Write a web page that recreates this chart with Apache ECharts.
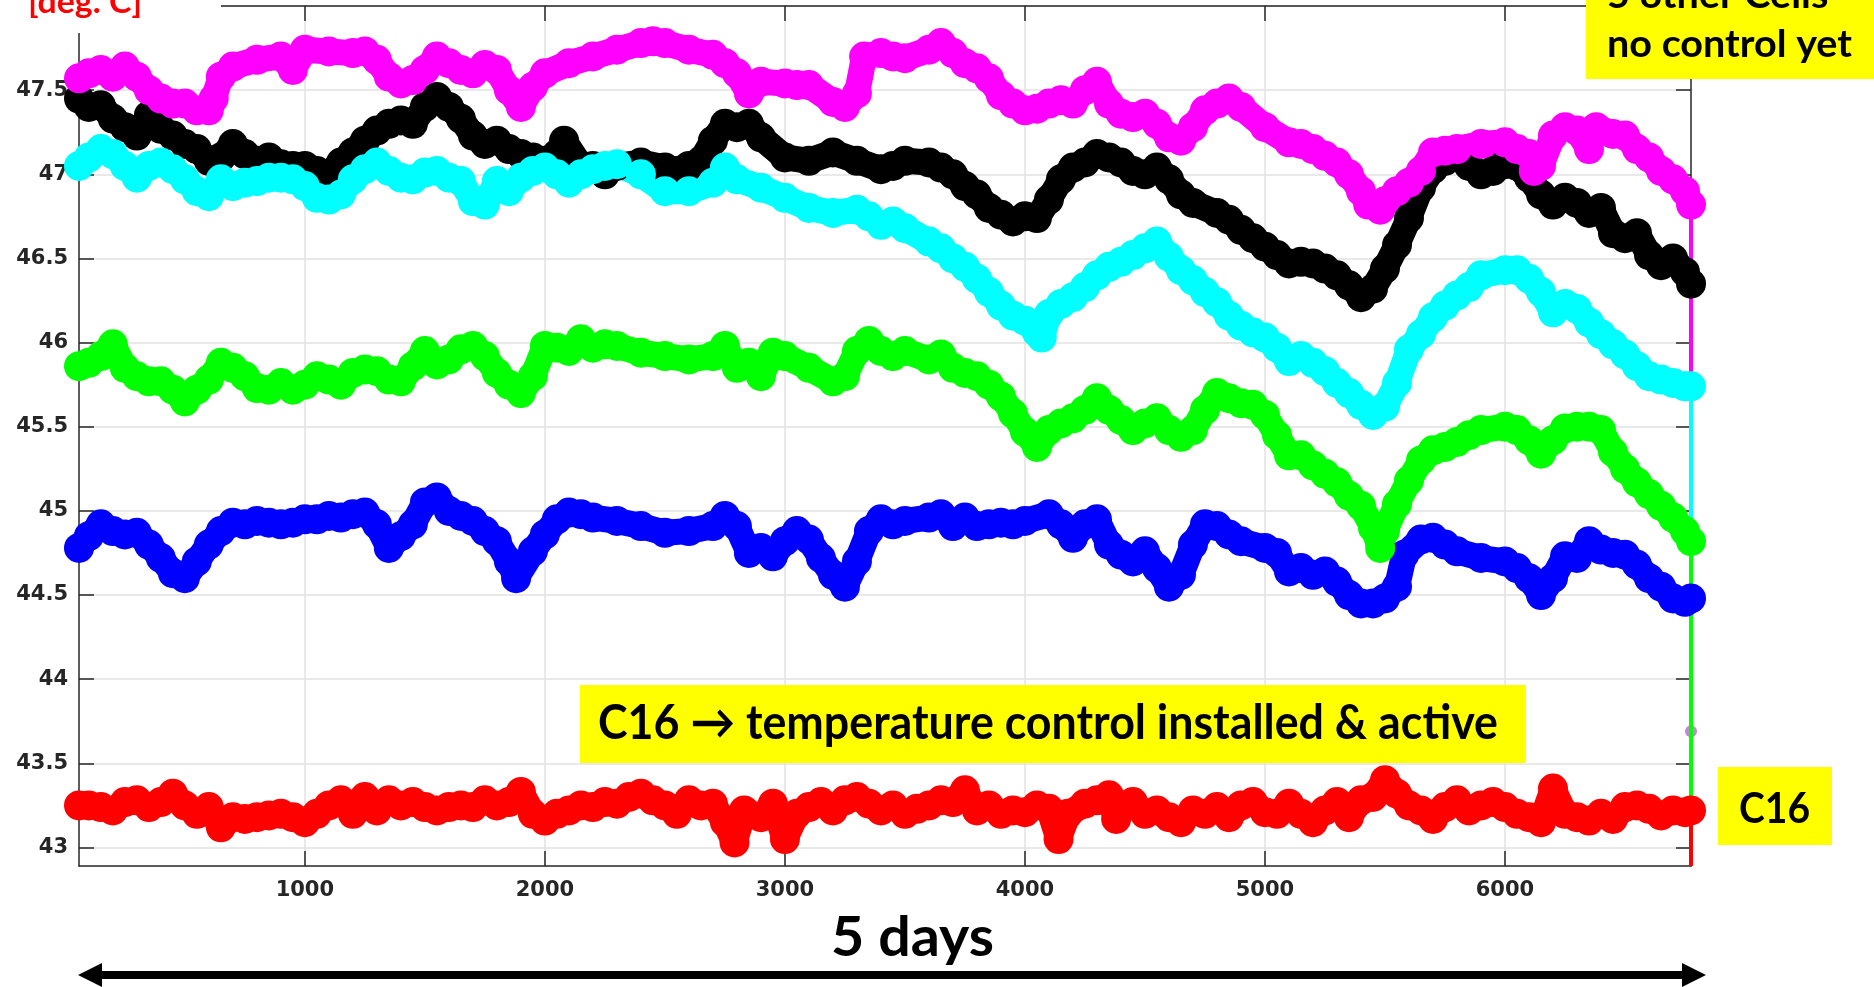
<!DOCTYPE html>
<html><head><meta charset="utf-8">
<script src="https://cdn.jsdelivr.net/npm/echarts@6/dist/echarts.min.js"></script>
<style>html,body{margin:0;padding:0;background:#fff}#c{width:1874px;height:987px}</style>
</head><body><div id="c"></div>
<script>
// ---- axis ticks / ranges ----
const xTicks = [1000, 2000, 3000, 4000, 5000, 6000];
const yTicks = [43, 43.5, 44, 44.5, 45, 45.5, 46, 46.5, 47, 47.5, 48];
const yLabels = [43, 43.5, 44, 44.5, 45, 45.5, 46, 46.5, 47, 47.5];
const xRange = [59, 6775];
const yRange = [42.89, 48.0];

// ---- series values [sample, deg C] ----
const magenta = [[59,47.57],[100,47.60],[150,47.62],[200,47.58],[250,47.64],[300,47.58],[350,47.50],[400,47.45],[450,47.42],[500,47.42],[550,47.38],[600,47.38],[620,47.45],[650,47.58],[700,47.64],[800,47.68],[900,47.70],[950,47.62],[1000,47.74],[1100,47.73],[1200,47.72],[1250,47.73],[1300,47.68],[1350,47.58],[1400,47.54],[1450,47.56],[1500,47.62],[1550,47.70],[1600,47.66],[1650,47.62],[1700,47.60],
[1750,47.65],[1800,47.62],[1850,47.50],[1900,47.40],[1950,47.52],[2000,47.60],[2100,47.66],[2200,47.70],[2300,47.74],[2400,47.78],[2450,47.79],[2500,47.78],[2600,47.74],[2700,47.71],[2750,47.66],[2800,47.60],[2850,47.48],[2900,47.55],[3000,47.54],[3050,47.53],[3100,47.53],[3200,47.43],[3250,47.40],[3300,47.48],[3330,47.70],[3400,47.72],
[3450,47.70],[3500,47.69],[3600,47.74],[3650,47.78],[3700,47.72],[3750,47.66],[3800,47.63],[3850,47.57],[3900,47.47],[3950,47.42],[4000,47.38],[4050,47.39],[4100,47.42],[4150,47.44],[4200,47.42],[4250,47.50],[4300,47.55],[4350,47.42],[4400,47.36],[4450,47.34],[4500,47.36],[4550,47.30],[4600,47.22],[4650,47.20],[4700,47.28],[4750,47.38],[4800,47.42],[4850,47.45],[4900,47.40],[5000,47.28],[5100,47.19],
[5150,47.18],[5200,47.15],[5250,47.11],[5300,47.07],[5350,47.00],[5400,46.90],[5430,46.82],[5480,46.79],[5500,46.84],[5550,46.90],[5600,46.95],[5650,47.02],[5700,47.13],[5750,47.14],[5800,47.15],[5900,47.18],[6000,47.19],[6050,47.15],[6100,47.12],[6120,47.02],[6150,47.05],[6200,47.23],[6250,47.28],[6300,47.26],[6350,47.15],[6380,47.28],[6450,47.24],[6500,47.23],[6550,47.15],[6600,47.10],[6650,47.02],[6700,46.97],[6750,46.90],[6775,46.82]];

const black = [[59,47.45],[100,47.40],[150,47.41],[200,47.33],[250,47.28],[300,47.23],[350,47.35],[400,47.27],[450,47.23],[500,47.18],[550,47.15],[600,47.08],[650,47.10],[700,47.18],[750,47.12],[800,47.08],[850,47.10],[900,47.06],[950,47.05],[1000,47.05],[1050,47.02],[1100,47.00],[1150,47.07],[1200,47.13],[1250,47.20],[1300,47.26],[1350,47.30],[1400,47.32],[1450,47.30],[1500,47.40],[1550,47.46],[1600,47.40],[1650,47.33],[1700,47.23],
[1750,47.18],[1800,47.20],[1850,47.15],[1900,47.12],[1950,47.10],[2000,47.08],[2050,47.12],[2080,47.20],[2150,47.05],[2200,47.05],[2250,47.00],[2300,47.05],[2400,47.07],[2500,47.04],[2550,47.02],[2600,47.05],[2650,47.08],[2700,47.20],[2750,47.30],[2800,47.28],[2850,47.30],[2900,47.22],[3000,47.10],[3100,47.08],[3200,47.13],[3300,47.08],[3400,47.03],
[3450,47.05],[3500,47.08],[3600,47.07],[3650,47.04],[3700,47.00],[3750,46.93],[3800,46.88],[3850,46.80],[3900,46.76],[3950,46.72],[4000,46.75],[4050,46.74],[4100,46.85],[4150,46.97],[4200,47.04],[4250,47.07],[4300,47.12],[4350,47.10],[4400,47.07],[4450,47.02],[4500,47.00],[4550,47.04],[4600,46.97],[4650,46.88],[4700,46.83],[4800,46.77],[4850,46.73],[4900,46.67],[4950,46.62],[5000,46.57],[5050,46.52],[5100,46.47],
[5150,46.48],[5200,46.47],[5250,46.44],[5300,46.40],[5350,46.34],[5400,46.27],[5450,46.32],[5500,46.44],[5550,46.58],[5600,46.74],[5650,46.92],[5700,47.03],[5750,47.08],[5800,47.12],[5850,47.05],[5900,47.00],[5950,47.02],[6000,47.06],[6050,47.05],[6100,46.98],[6150,46.88],[6200,46.82],[6250,46.86],[6300,46.83],[6350,46.77],[6400,46.80],[6450,46.65],[6500,46.62],[6550,46.65],[6600,46.52],[6650,46.46],[6700,46.50],[6750,46.42],[6775,46.35]];

const cyan = [[59,47.05],[100,47.10],[150,47.15],[200,47.12],[250,47.05],[300,46.98],[350,47.05],[400,47.07],[450,47.03],[500,46.97],[550,46.90],[600,46.87],[650,46.97],[700,46.93],[750,46.95],[800,46.96],[850,46.98],[900,46.98],[950,46.97],[1000,46.93],[1050,46.86],[1100,46.85],[1150,46.88],[1200,46.97],[1250,47.03],[1300,47.07],[1350,47.02],[1400,46.98],[1450,46.97],[1500,47.01],[1550,47.02],[1600,46.98],[1650,46.96],[1700,46.84],
[1750,46.82],[1800,46.96],[1850,46.90],[1900,46.98],[1950,47.02],[2000,47.04],[2050,47.00],[2100,46.95],[2150,47.00],[2200,47.03],[2250,47.05],[2300,47.06],[2400,47.00],[2500,46.90],[2600,46.90],[2700,46.95],[2750,47.04],[2800,46.97],[2900,46.92],[3000,46.86],[3100,46.80],[3200,46.77],[3300,46.79],[3350,46.75],[3400,46.70],
[3450,46.72],[3500,46.68],[3600,46.60],[3650,46.56],[3700,46.50],[3750,46.45],[3800,46.38],[3850,46.30],[3900,46.22],[3950,46.16],[4000,46.13],[4050,46.06],[4070,46.03],[4100,46.17],[4150,46.23],[4200,46.27],[4250,46.33],[4300,46.40],[4350,46.45],[4400,46.48],[4450,46.52],[4500,46.56],[4550,46.60],[4600,46.51],[4650,46.43],[4700,46.37],[4750,46.30],[4800,46.24],[4850,46.16],[4900,46.10],[4950,46.06],[5000,46.03],[5050,45.97],[5100,45.89],
[5150,45.92],[5200,45.88],[5250,45.83],[5300,45.76],[5350,45.70],[5400,45.63],[5450,45.57],[5500,45.62],[5550,45.76],[5600,45.96],[5650,46.05],[5700,46.15],[5750,46.22],[5800,46.28],[5850,46.33],[5900,46.40],[6000,46.43],[6050,46.43],[6100,46.38],[6150,46.30],[6200,46.18],[6250,46.23],[6300,46.20],[6350,46.12],[6400,46.05],[6450,45.99],[6500,45.93],[6550,45.86],[6600,45.80],[6650,45.78],[6700,45.76],[6750,45.74],[6775,45.74]];

const blue = [[59,44.78],[100,44.85],[150,44.92],[200,44.88],[250,44.86],[300,44.87],[350,44.80],[400,44.72],[450,44.63],[500,44.60],[550,44.70],[600,44.80],[650,44.88],[700,44.93],[750,44.92],[800,44.94],[850,44.93],[900,44.92],[950,44.93],[1000,44.95],[1050,44.95],[1100,44.97],[1150,44.96],[1200,44.98],[1250,44.99],[1300,44.92],[1350,44.78],[1400,44.85],[1450,44.92],[1500,45.05],[1550,45.08],[1600,45.00],[1650,44.97],[1700,44.94],
[1750,44.88],[1800,44.82],[1850,44.70],[1880,44.60],[1950,44.76],[2000,44.86],[2050,44.95],[2100,44.99],[2150,44.98],[2200,44.96],[2300,44.94],[2400,44.91],[2500,44.87],[2600,44.88],[2700,44.91],[2750,44.97],[2800,44.91],[2850,44.75],[2900,44.78],[2950,44.73],[3000,44.82],[3050,44.88],[3100,44.83],[3150,44.72],[3200,44.62],[3250,44.55],[3300,44.70],[3350,44.88],[3400,44.95],
[3450,44.92],[3500,44.94],[3600,44.96],[3650,44.98],[3700,44.91],[3750,44.96],[3800,44.91],[3850,44.92],[3900,44.93],[3950,44.92],[4000,44.94],[4100,44.98],[4150,44.92],[4200,44.84],[4250,44.92],[4300,44.95],[4350,44.80],[4400,44.74],[4450,44.70],[4500,44.76],[4550,44.66],[4600,44.55],[4650,44.62],[4700,44.80],[4750,44.92],[4800,44.91],[4850,44.86],[4900,44.82],[5000,44.78],[5050,44.75],[5100,44.64],
[5150,44.66],[5200,44.62],[5250,44.64],[5300,44.58],[5350,44.50],[5400,44.45],[5450,44.45],[5500,44.48],[5550,44.55],[5580,44.74],[5650,44.83],[5700,44.84],[5750,44.80],[5800,44.76],[5900,44.72],[6000,44.70],[6050,44.66],[6100,44.60],[6150,44.50],[6200,44.60],[6250,44.73],[6300,44.72],[6350,44.82],[6400,44.77],[6450,44.75],[6500,44.74],[6550,44.68],[6600,44.60],[6650,44.55],[6700,44.48],[6750,44.46],[6775,44.48]];

const green = [[59,45.86],[100,45.88],[150,45.92],[200,45.99],[250,45.85],[300,45.80],[350,45.77],[400,45.77],[450,45.72],[500,45.65],[550,45.72],[600,45.78],[650,45.88],[700,45.85],[750,45.80],[800,45.73],[850,45.72],[900,45.76],[950,45.72],[1000,45.75],[1050,45.80],[1100,45.78],[1150,45.75],[1200,45.82],[1250,45.84],[1300,45.83],[1350,45.78],[1400,45.77],[1450,45.86],[1500,45.95],[1550,45.87],[1600,45.90],[1650,45.96],[1700,45.98],
[1750,45.92],[1800,45.82],[1850,45.75],[1900,45.70],[1950,45.80],[2000,45.98],[2050,45.97],[2100,45.95],[2150,46.02],[2200,45.97],[2250,45.99],[2300,45.98],[2400,45.94],[2500,45.92],[2600,45.90],[2700,45.92],[2750,45.98],[2800,45.85],[2850,45.88],[2900,45.80],[2950,45.94],[3000,45.92],[3100,45.85],[3200,45.77],[3250,45.80],[3300,45.95],[3350,46.01],[3400,45.95],
[3450,45.92],[3500,45.95],[3600,45.90],[3650,45.93],[3700,45.85],[3750,45.82],[3800,45.80],[3850,45.75],[3900,45.68],[3950,45.58],[4000,45.47],[4050,45.38],[4100,45.48],[4150,45.52],[4200,45.55],[4250,45.60],[4300,45.67],[4350,45.60],[4400,45.54],[4450,45.48],[4500,45.52],[4550,45.55],[4600,45.48],[4650,45.44],[4700,45.48],[4750,45.60],[4800,45.70],[4850,45.67],[4900,45.64],[4950,45.63],[5000,45.57],[5050,45.45],[5100,45.33],
[5150,45.33],[5200,45.27],[5250,45.22],[5300,45.17],[5350,45.09],[5400,45.03],[5450,44.90],[5480,44.78],[5500,44.88],[5550,45.04],[5600,45.18],[5650,45.30],[5700,45.36],[5750,45.38],[5800,45.41],[5850,45.45],[5900,45.48],[6000,45.50],[6050,45.48],[6100,45.42],[6150,45.34],[6200,45.42],[6250,45.49],[6300,45.50],[6350,45.50],[6400,45.48],[6450,45.35],[6500,45.25],[6550,45.17],[6600,45.10],[6650,45.03],[6700,44.96],[6750,44.88],[6775,44.82]];

const red = [[59,43.25],[100,43.25],[150,43.24],[200,43.22],[250,43.27],[300,43.28],[350,43.24],[400,43.27],[450,43.32],[500,43.25],[550,43.20],[600,43.24],[650,43.12],[700,43.18],[750,43.17],[800,43.18],[850,43.19],[900,43.20],[950,43.18],[1000,43.15],[1050,43.20],[1100,43.25],[1150,43.28],[1200,43.20],[1250,43.30],[1300,43.22],[1350,43.28],[1400,43.25],[1450,43.27],[1500,43.24],[1550,43.22],[1600,43.24],[1650,43.25],[1700,43.24],
[1750,43.28],[1800,43.25],[1850,43.27],[1900,43.33],[1950,43.20],[2000,43.16],[2050,43.20],[2100,43.22],[2150,43.25],[2200,43.24],[2250,43.27],[2300,43.26],[2350,43.30],[2400,43.32],[2450,43.28],[2500,43.25],[2550,43.20],[2600,43.28],[2650,43.25],[2700,43.26],[2750,43.15],[2790,43.03],[2830,43.22],[2900,43.18],[2950,43.26],[3000,43.05],[3050,43.20],[3100,43.24],[3150,43.27],[3200,43.22],[3250,43.28],[3300,43.30],[3350,43.26],[3400,43.22],
[3450,43.25],[3500,43.20],[3550,43.23],[3600,43.25],[3650,43.28],[3700,43.27],[3750,43.34],[3800,43.22],[3850,43.25],[3900,43.20],[3950,43.22],[4000,43.21],[4050,43.25],[4100,43.23],[4140,43.05],[4180,43.20],[4250,43.26],[4300,43.28],[4350,43.31],[4380,43.17],[4400,43.25],[4450,43.27],[4500,43.20],[4550,43.22],[4600,43.18],[4650,43.15],[4700,43.22],[4750,43.20],[4800,43.24],[4850,43.18],[4900,43.25],[4950,43.27],[5000,43.21],[5050,43.20],[5100,43.26],
[5150,43.20],[5200,43.15],[5250,43.22],[5300,43.27],[5350,43.18],[5400,43.28],[5450,43.30],[5500,43.40],[5550,43.32],[5600,43.25],[5650,43.22],[5700,43.17],[5750,43.24],[5800,43.28],[5850,43.22],[5900,43.25],[5950,43.27],[6000,43.24],[6050,43.20],[6100,43.18],[6150,43.15],[6200,43.35],[6250,43.20],[6300,43.18],[6350,43.16],[6400,43.20],[6450,43.17],[6500,43.24],[6550,43.25],[6600,43.23],[6650,43.19],[6700,43.22],[6750,43.21],[6775,43.22]];

const endMarker = [[6775, 43.69]];

// draw order as in the original figure
const seriesDefs = [
  {name: 'black', data: black, color: '#000000'},
  {name: 'magenta', data: magenta, color: '#ff00ff'},
  {name: 'cyan', data: cyan, color: '#00ffff'},
  {name: 'blue', data: blue, color: '#0000ff'},
  {name: 'green', data: green, color: '#00ff00'},
  {name: 'red', data: red, color: '#ff0000'}
];

const series = [];
seriesDefs.forEach(d => {
  series.push({
    type: 'line', name: d.name, data: d.data,
    showSymbol: true, showAllSymbol: true, symbol: 'circle', symbolSize: 30,
    itemStyle: {color: d.color},
    lineStyle: {color: d.color, width: 26, cap: 'round', join: 'round'},
    emphasis: {disabled: true}, animation: false, silent: true
  });
  const last = d.data[d.data.length - 1];
  series.push({
    type: 'line', name: d.name + '-end', data: [last, [last[0], yRange[0]]],
    showSymbol: false, lineStyle: {color: d.color, width: 4},
    emphasis: {disabled: true}, animation: false, silent: true
  });
});
series.push({
  type: 'scatter', data: endMarker, symbolSize: 12,
  itemStyle: {color: '#b46cc4'}, animation: false, silent: true
});

const AX = '#262626';
const labelFont = {color: AX, fontSize: 21, fontWeight: 'bold', fontFamily: 'DejaVu Sans'};
function xAx(pos, labels) {
  return {
    type: 'value', position: pos, min: xRange[0], max: xRange[1],
    axisLine: {show: true, onZero: false, lineStyle: {color: AX, width: 1.5}},
    axisTick: {show: true, inside: true, length: 15, customValues: xTicks, lineStyle: {color: AX, width: 1.5}},
    axisLabel: Object.assign({show: labels, customValues: xTicks, margin: 14, formatter: v => String(v)}, labelFont),
    splitLine: {show: labels, lineStyle: {color: '#e2e2e2', width: 1.5}}
  };
}
function yAx(pos, labels) {
  return {
    type: 'value', position: pos, min: yRange[0], max: yRange[1],
    axisLine: {show: true, onZero: false, lineStyle: {color: AX, width: 1.5}},
    axisTick: {show: true, inside: true, length: 15, customValues: yTicks, lineStyle: {color: AX, width: 1.5}},
    axisLabel: Object.assign({show: labels, customValues: yLabels, margin: 11, padding: [6, 0, 0, 0], formatter: v => String(v)}, labelFont),
    splitLine: {show: labels, lineStyle: {color: '#e2e2e2', width: 1.5}}
  };
}

// ---- text fitting helper for annotations ----
const meas = document.createElement('canvas').getContext('2d');
const FAM = 'Lato, "Open Sans", "DejaVu Sans", sans-serif';
function fit(str, capH, width) {
  meas.font = 'bold 100px ' + FAM;
  meas.textBaseline = 'alphabetic';
  const capRatio = (meas.measureText('H').actualBoundingBoxAscent / 100) || 0.72;
  const size = capH / capRatio;
  const font = 'bold ' + size.toFixed(2) + 'px ' + FAM;
  meas.font = font;
  const w = meas.measureText(str).width;
  meas.textBaseline = 'middle';
  const a = meas.measureText('H').actualBoundingBoxAscent;
  return {font: font, sx: width / w, off: a - capH / 2};
}
function txt(str, x, capCenterY, f, align, fill) {
  return {type: 'text', x: x, y: capCenterY + f.off, scaleX: f.sx, z: 30,
    style: {text: str, font: f.font, fill: fill, align: align, verticalAlign: 'middle', textAlign: align, textVerticalAlign: 'middle'}};
}

const fNo = fit('no control yet', 28, 245);
const fMid = fit('C16 \u2192 temperature control installed & active', 35, 900);
const fC16 = fit('C16', 31, 71);
const fDays = fit('5 days', 41, 163);
const fDeg = fit('[deg. C]', 24, 114);

const graphic = [
  {type: 'rect', z: 20, shape: {x: 0, y: 0, width: 221, height: 33}, style: {fill: '#ffffff'}},
  txt('[deg. C]', 28, 1, fDeg, 'left', '#ff0000'),
  {type: 'rect', z: 20, shape: {x: 1586, y: 0, width: 288, height: 79}, style: {fill: '#ffff00'}},
  txt('5 other Cells', 1607, 8 - 14, fNo, 'left', '#000000'),
  txt('no control yet', 1607, 57 - 14, fNo, 'left', '#000000'),
  {type: 'rect', z: 20, shape: {x: 580, y: 685, width: 946, height: 78}, style: {fill: '#ffff00'}},
  txt('C16 \u2192 temperature control installed & active', 598, 721.5, fMid, 'left', '#000000'),
  {type: 'rect', z: 20, shape: {x: 1718, y: 767, width: 114, height: 78}, style: {fill: '#ffff00'}},
  txt('C16', 1774.5, 807, fC16, 'center', '#000000'),
  txt('5 days', 912.5, 936, fDays, 'center', '#000000'),
  {type: 'line', z: 20, shape: {x1: 96, y1: 975, x2: 1688, y2: 975}, style: {stroke: '#000000', lineWidth: 8}},
  {type: 'polygon', z: 20, shape: {points: [[78, 975], [102, 963], [102, 987]]}, style: {fill: '#000000'}},
  {type: 'polygon', z: 20, shape: {points: [[1706, 975], [1682, 963], [1682, 987]]}, style: {fill: '#000000'}}
];

const chart = echarts.init(document.getElementById('c'), null, {renderer: 'canvas'});
chart.setOption({
  animation: false,
  backgroundColor: '#ffffff',
  grid: {left: 79, top: 6, right: 183, bottom: 121, containLabel: false},
  xAxis: [xAx('bottom', true), xAx('top', false)],
  yAxis: [yAx('left', true), yAx('right', false)],
  series: series,
  graphic: graphic
});
</script>
</body></html>
